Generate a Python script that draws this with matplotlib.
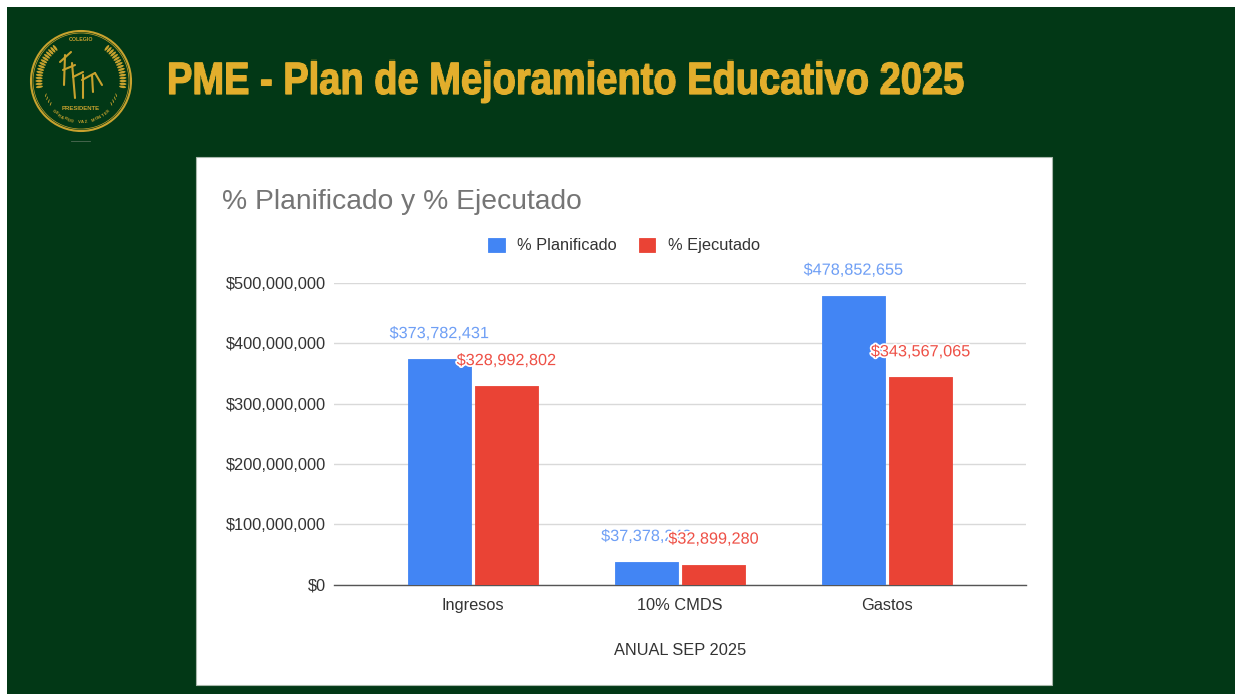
import numpy as np
import matplotlib.pyplot as plt
import matplotlib.patheffects as pe
from matplotlib.patches import Rectangle, Circle, Ellipse

categories = ["Ingresos", "10% CMDS", "Gastos"]
planificado = [373782431, 37378243, 478852655]
ejecutado = [328992802, 32899280, 343567065]
planificado_labels = ["$373,782,431", "$37,378,243", "$478,852,655"]
ejecutado_labels = ["$328,992,802", "$32,899,280", "$343,567,065"]
y_ticks = [0, 100000000, 200000000, 300000000, 400000000, 500000000]
y_tick_labels = ["$0", "$100,000,000", "$200,000,000", "$300,000,000", "$400,000,000", "$500,000,000"]

W, H = 1235, 694
GREEN = "#023816"
GOLD = "#E2AE2C"
LOGO = "#C8A22E"
BLUE = "#4285F4"
RED = "#EA4335"

plt.rcParams['font.family'] = ['Liberation Sans', 'DejaVu Sans']


def stretch_tall(img, dpi):
    # el titulo original es mas alto y apretado que la fuente
    h = img.shape[0]
    new_h = int(h * 1.2)
    rows = np.linspace(0, h - 1, new_h).astype(int)
    return img[rows], 0, -(new_h - h) // 2


fig = plt.figure(figsize=(W / 100, H / 100), dpi=100, facecolor="white")

# fondo en pixeles
bg = fig.add_axes([0, 0, 1, 1], zorder=0)
bg.set_xlim(0, W)
bg.set_ylim(H, 0)
bg.axis("off")
bg.add_patch(Rectangle((7, 7), W - 7, H - 7, color=GREEN, lw=0))
bg.add_patch(Rectangle((196, 157), 856, 528, facecolor="white", edgecolor="#a9b8ac", lw=0.8))

title = bg.text(167, 81, "PME - Plan de Mejoramiento Educativo 2025", color=GOLD, fontsize=27.4,
                fontweight="bold", va="center", ha="left",
                path_effects=[pe.withStroke(linewidth=0.9, foreground=GOLD)])
title.set_agg_filter(stretch_tall)

# logo
cx, cy = 81, 81
bg.add_patch(Circle((cx, cy), 50, fill=False, edgecolor=LOGO, lw=1.5))
bg.add_patch(Circle((cx, cy), 48, fill=False, edgecolor=LOGO, lw=0.5))
for side in (-1, 1):
    for ang in np.arange(-8, 56, 4):
        a = np.radians(ang)
        bg.add_patch(Ellipse((cx + side * 42 * np.cos(a), cy - 42 * np.sin(a)), 7, 2.4,
                             angle=-side * ang, color=LOGO, lw=0))
    for ang in (-22, -27, -32, -37):
        a = np.radians(ang)
        bg.add_patch(Ellipse((cx + side * 38 * np.cos(a), cy - 38 * np.sin(a)), 4, 0.9,
                             angle=side * 70, color=LOGO, lw=0))
strokes = [((60, 62), (71, 52)), ((65, 55), (64, 85)), ((63, 70), (75, 65)), ((72, 63), (75, 98)),
           ((73, 77), (83, 72)), ((83, 75), (83, 98)), ((82, 80), (95, 73)), ((92, 75), (93, 92)),
           ((95, 73), (102, 85))]
for p, q in strokes:
    bg.plot([p[0], q[0]], [p[1], q[1]], color=LOGO, lw=1.5, solid_capstyle="round")
bg.text(cx, 39, "COLEGIO", color=LOGO, fontsize=3.8, ha="center", va="center", fontweight="bold")
bg.text(cx, 108, "PRESIDENTE", color=LOGO, fontsize=4.3, ha="center", va="center", fontweight="bold")
arc_text = "GERARDO VAZ MONTES"
for i, ch in enumerate(arc_text):
    ang = np.radians((i - (len(arc_text) - 1) / 2) * 5.0)
    bg.text(cx + 41 * np.sin(ang), cy + 41 * np.cos(ang), ch, color=LOGO, fontsize=3.1, ha="center", va="center",
            rotation=np.degrees(ang), fontweight="bold")
bg.plot([71, 90], [140.5, 140.5], color="#4f6b55", lw=0.6)

# grafico
ax = fig.add_axes([334 / W, 1 - 584.5 / H, 692 / W, 301.5 / H], zorder=2)
ax.patch.set_alpha(0)
x = np.arange(len(categories))
width = 0.305
offset = 0.162
bars1 = ax.bar(x - offset, planificado, width, color=BLUE, edgecolor=BLUE, lw=0.6, joinstyle="round",
               label="% Planificado", zorder=3)
bars2 = ax.bar(x + offset, ejecutado, width, color=RED, edgecolor=RED, lw=0.6, joinstyle="round",
               label="% Ejecutado", zorder=3)

ax.set_xlim(-0.671, 2.671)
ax.set_ylim(0, 500000000)
ax.set_yticks(y_ticks)
ax.set_yticklabels(y_tick_labels, fontsize=11.8, color="#333333")
ax.set_xticks(x)
ax.set_xticklabels(categories, fontsize=11.8, color="#333333")
ax.tick_params(length=0)
ax.tick_params(axis="y", pad=6)
ax.tick_params(axis="x", pad=10)
ax.grid(axis="y", color="#d9d9d9", lw=1, zorder=0)
ax.set_axisbelow(True)
for s in ("top", "left", "right"):
    ax.spines[s].set_visible(False)
ax.spines["bottom"].set_color("#555555")
ax.spines["bottom"].set_linewidth(1)
ax.set_xlabel("ANUAL SEP 2025", fontsize=11.8, color="#333333", labelpad=21)

halo = [pe.withStroke(linewidth=2.5, foreground="white")]
for b, lab in zip(bars1, planificado_labels):
    ax.annotate(lab, (b.get_x() + b.get_width() / 2, b.get_height()), xytext=(0, 18), textcoords="offset pixels",
                ha="center", va="bottom", fontsize=11.7, color="#6f9ff5", path_effects=halo, annotation_clip=False, zorder=5)
for b, lab in zip(bars2, ejecutado_labels):
    ax.annotate(lab, (b.get_x() + b.get_width() / 2, b.get_height()), xytext=(0, 18), textcoords="offset pixels",
                ha="center", va="bottom", fontsize=11.7, color="#EE5046", path_effects=halo, annotation_clip=False, zorder=6)

leg = fig.legend(handles=[bars1, bars2], loc="center", bbox_to_anchor=(624 / W, 1 - 245.5 / H), ncol=2, frameon=False,
                 fontsize=11.8, labelcolor="#333333", handlelength=1.0, handleheight=1.0, handletextpad=0.75, columnspacing=1.35)

bg.text(222, 202, "% Planificado y % Ejecutado", fontsize=20.3, color="#757575", va="center", ha="left")

fig.savefig("out.png", dpi=100, facecolor=fig.get_facecolor())
